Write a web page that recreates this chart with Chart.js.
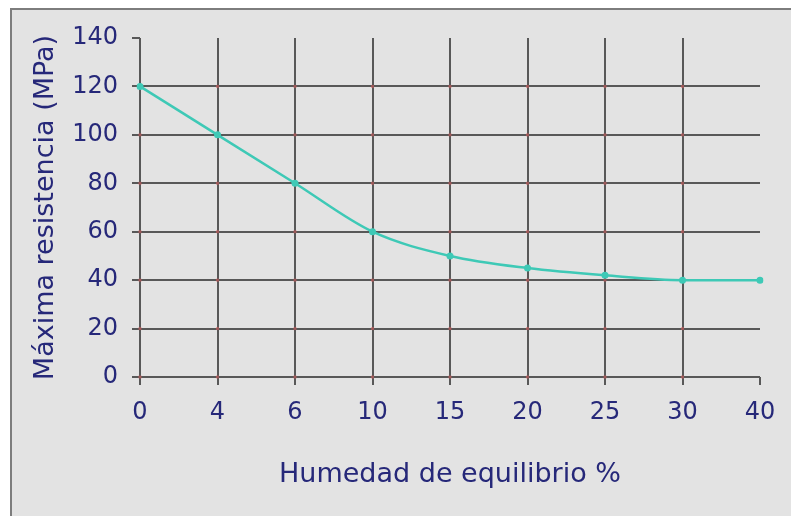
<!DOCTYPE html>
<html>
<head>
<meta charset="utf-8">
<script src="https://cdn.jsdelivr.net/npm/chart.js@4/dist/chart.umd.min.js"></script>
<style>
  html, body { margin: 0; padding: 0; background: #ffffff; overflow: hidden; }
  #wrap { width: 791px; height: 516px; position: relative; }
</style>
</head>
<body>
<div id="wrap"><canvas id="c" width="791" height="516"></canvas></div>
<script>
const categories = ['0', '4', '6', '10', '15', '20', '25', '30', '40'];
const resistance = [120, 100, 80, 60, 50, 45, 42, 40, 40];
const yTicks = [0, 20, 40, 60, 80, 100, 120, 140];
const xTitle = 'Humedad de equilibrio %';
const yTitle = 'Máxima resistencia (MPa)';

const GRID = '#585858';
const TEXT = '#262879';
const LINE = '#3ec9b6';

const framePlugin = {
  id: 'frame',
  beforeDraw(chart) {
    const ctx = chart.ctx;
    ctx.save();
    ctx.fillStyle = '#ffffff';
    ctx.fillRect(0, 0, chart.width, chart.height);
    ctx.fillStyle = '#e3e3e3';
    ctx.fillRect(10, 8, chart.width - 10, chart.height - 8);
    ctx.fillStyle = '#7d7d7d';
    ctx.fillRect(10, 8, chart.width - 10, 2);
    ctx.fillRect(10, 8, 2, chart.height - 8);
    ctx.restore();
  }
};

const dotsPlugin = {
  id: 'dots',
  beforeDatasetsDraw(chart) {
    const ctx = chart.ctx;
    const xs = chart.scales.x, ys = chart.scales.y;
    ctx.save();
    ctx.fillStyle = 'rgba(225,90,90,0.5)';
    categories.forEach((c, i) => {
      if (i === categories.length - 1) return;
      yTicks.forEach(v => {
        if (v === 140) return;
        const px = xs.getPixelForValue(i);
        const py = ys.getPixelForValue(v);
        ctx.fillRect(px - 1.5, py - 1.5, 3, 3);
      });
    });
    ctx.restore();
  }
};

new Chart(document.getElementById('c'), {
  type: 'line',
  data: {
    labels: categories,
    datasets: [{
      data: resistance,
      borderColor: LINE,
      backgroundColor: LINE,
      borderWidth: 2.5,
      pointRadius: 3.5,
      pointHoverRadius: 3.5,
      pointBorderWidth: 0,
      cubicInterpolationMode: 'monotone',
      fill: false
    }]
  },
  options: {
    responsive: false,
    animation: false,
    devicePixelRatio: 1,
    layout: { padding: { left: 12, right: 31, top: 38, bottom: 0 } },
    plugins: { legend: { display: false }, tooltip: { enabled: false } },
    scales: {
      x: {
        type: 'category',
        offset: false,
        afterFit(scale) { scale.height = 139; },
        grid: {
          color: ctx => (ctx.index === categories.length - 1 ? 'rgba(0,0,0,0)' : GRID),
          tickColor: GRID,
          lineWidth: 2,
          tickLength: 8,
          drawTicks: true
        },
        border: { display: false },
        ticks: {
          color: TEXT,
          font: { family: 'DejaVu Sans', size: 24 },
          padding: 13,
          maxRotation: 0,
          autoSkip: false
        },
        title: {
          display: true,
          text: xTitle,
          color: TEXT,
          font: { family: 'DejaVu Sans', size: 27 },
          padding: { top: 0, bottom: 25 }
        }
      },
      y: {
        min: 0,
        max: 140,
        afterFit(scale) { scale.width = 128; },
        afterBuildTicks(scale) { scale.ticks = yTicks.map(v => ({ value: v })); },
        grid: {
          color: ctx => (ctx.tick && ctx.tick.value === 140 ? 'rgba(0,0,0,0)' : GRID),
          tickColor: GRID,
          lineWidth: 2,
          tickLength: 8,
          drawTicks: true
        },
        border: { display: false },
        ticks: {
          color: TEXT,
          font: { family: 'DejaVu Sans', size: 24 },
          padding: 14
        },
        title: {
          display: true,
          text: yTitle,
          color: TEXT,
          font: { family: 'DejaVu Sans', size: 27 },
          padding: { top: 18, bottom: 0 }
        }
      }
    }
  },
  plugins: [framePlugin, dotsPlugin]
});
</script>
</body>
</html>
